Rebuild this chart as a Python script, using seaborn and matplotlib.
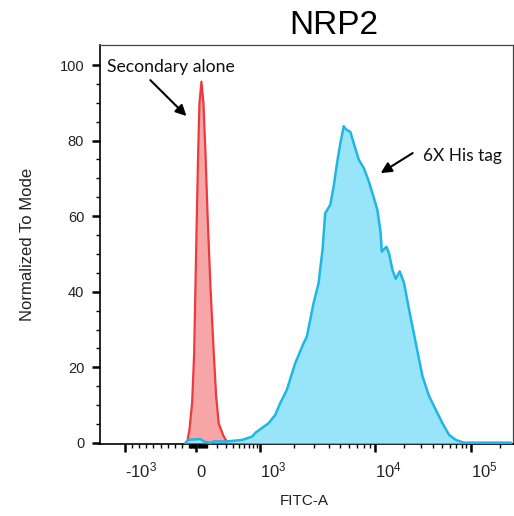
import numpy as np
import pandas as pd
import matplotlib
matplotlib.use("Agg")
import matplotlib.pyplot as plt
import seaborn as sns
from matplotlib.ticker import FixedLocator, NullFormatter

# ---------------- data (FITC-A intensity vs. % of mode) ----------------
red_fitc = [-130, -98, -60, -32, -14, 2.7, 15.5, 27.3, 45.7, 64.1, 82.9, 104.8,
            131.3, 164.9, 190.3, 218.5, 276.7, 318, 1000, 10000, 100000, 262144]
red_mode = [0, 3.4, 10.6, 23.6, 41.2, 58.9, 76.7, 89.9, 95.6, 89.9, 76.7, 58.9,
            41.2, 23.6, 12.1, 5.1, 1.7, 0.3, 0, 0, 0, 0]

blue_fitc = [-153, -112, 36, 73, 131, 171, 299, 562, 784, 872,
             1197, 1370, 1515, 1731, 2044, 2415, 2583, 2950, 3260, 3530, 3725,
             4120, 4400, 4710, 5030, 5375, 5670, 6140, 6560, 7260, 8020, 8870, 9800,
             10590, 11470, 11750, 13150, 14000, 15200, 16450, 18100, 20100, 22650,
             26600, 31250, 36600, 43000, 50550, 59300, 69650, 84950, 262144]
blue_mode = [0, 0.8, 1.0, 0.3, 0, 0.4, 0.34, 0.79, 1.67, 2.7,
             5.2, 7.4, 10.5, 14.0, 21.0, 26.3, 28.1, 36.9, 42.2, 51.1, 60.8,
             63.0, 67.8, 74.0, 79.3, 83.8, 82.9, 82.3, 79.3, 74.9, 72.7, 69.1, 64.7,
             61.6, 55.5, 50.6, 51.9, 50.2, 45.8, 43.4, 45.4, 42.3, 35.3,
             26.5, 17.7, 12.4, 8.8, 5.2, 2.1, 0.8, 0, 0]

x_major = [-1000, 0, 1000, 10000, 100000]
x_major_labels = ["-$10^{3}$", "0", "$10^{3}$", "$10^{4}$", "$10^{5}$"]
y_major = [0, 20, 40, 60, 80, 100]

title = "NRP2"
xlabel = "FITC-A"
ylabel = "Normalized To Mode"
label_red = "Secondary alone"
label_blue = "6X His tag"

RED_LINE = "#EE3A3F"
RED_FILL = "#F7A6A8"
BLUE_LINE = "#1FB6E4"
BLUE_FILL = "#98E5F9"

# ---------------- biexponential-like display scale ----------------
U_A = np.array([-3 * 1.9189, -1.9189, 0.0, 1.9189, 4.1999, 6.5025, 12.0])
D_A = np.array([-215.1, -71.7, 0.0, 63.3, 178.3, 274.0, 502.5])


def fwd(x):
    x = np.asarray(x, dtype=float)
    u = np.where(x >= 0, np.arcsinh(np.abs(x) / 300.0), x / 1000.0 * 1.9189)
    return np.interp(u, U_A, D_A)


def inv(d):
    d = np.asarray(d, dtype=float)
    u = np.interp(d, D_A, U_A)
    return np.where(u >= 0, 300.0 * np.sinh(np.clip(u, 0, None)), u / 1.9189 * 1000.0)


# ---------------- style ----------------
sns.set_style("ticks")
plt.rcParams["font.family"] = ["Liberation Sans", "DejaVu Sans"]
plt.rcParams["mathtext.fontset"] = "custom"
plt.rcParams["mathtext.rm"] = "Liberation Sans"
plt.rcParams["mathtext.it"] = "Liberation Sans:italic"
plt.rcParams["mathtext.bf"] = "Liberation Sans:bold"

fig = plt.figure(figsize=(5.14, 5.16), dpi=100)
ax = fig.add_axes([99.5 / 514, 1 - 444.0 / 516, 413.0 / 514, 399.0 / 516])

ax.set_xscale("function", functions=(fwd, inv))

df_red = pd.DataFrame({"FITC-A": red_fitc, "mode": red_mode})
df_blue = pd.DataFrame({"FITC-A": blue_fitc, "mode": blue_mode})

ax.fill_between(df_red["FITC-A"], df_red["mode"], 0, color=RED_FILL, lw=0, zorder=2)
sns.lineplot(data=df_red, x="FITC-A", y="mode", color=RED_LINE, lw=1.6,
             sort=False, estimator=None, ax=ax, zorder=3)
ax.fill_between(df_blue["FITC-A"], df_blue["mode"], 0, color=BLUE_FILL, lw=0, zorder=4)
sns.lineplot(data=df_blue, x="FITC-A", y="mode", color=BLUE_LINE, lw=1.8,
             sort=False, estimator=None, ax=ax, zorder=5)

ax.set_xlim(-1350, 272000)
ax.set_ylim(-0.3, 105.3)

# ticks
x_minor = ([-100 * k for k in range(2, 10)] + [-10 * k for k in range(1, 11)]
           + [10 * k for k in range(1, 10)] + [100 * k for k in range(1, 10)]
           + [1000 * k for k in range(2, 10)] + [10000 * k for k in range(2, 10)]
           + [200000])
ax.xaxis.set_major_locator(FixedLocator(x_major))
ax.xaxis.set_minor_locator(FixedLocator(x_minor))
ax.xaxis.set_minor_formatter(NullFormatter())
ax.set_xticklabels(x_major_labels)
ax.yaxis.set_major_locator(FixedLocator(y_major))
ax.yaxis.set_minor_locator(FixedLocator(list(range(5, 105, 5))))
ax.yaxis.set_minor_formatter(NullFormatter())

ax.tick_params(axis="both", which="major", direction="out", length=6, width=1.8,
               color="black")
ax.tick_params(axis="both", which="minor", direction="out", length=3.2, width=1.0,
               color="black")
ax.tick_params(axis="y", which="major", labelsize=10.5, labelcolor="#222222", pad=5)
ax.tick_params(axis="x", which="major", labelsize=12, labelcolor="#222222", pad=18)

for lbl in ax.get_xticklabels():
    lbl.set_ha("left")
    lbl.set_va("baseline")

for side in ["left", "bottom"]:
    ax.spines[side].set_color("black")
    ax.spines[side].set_linewidth(1.2)
for side in ["top", "right"]:
    ax.spines[side].set_color("#444444")
    ax.spines[side].set_linewidth(0.9)

ax.set_xlabel(xlabel, fontsize=11, color="#222222")
ax.set_ylabel(ylabel, fontsize=12, color="#222222")
ax.xaxis.set_label_coords(0.495, -0.125)
ax.yaxis.set_label_coords(-0.155, 0.5)

fig.text(334 / 514, 1 - 25 / 516, title, ha="center", va="center", fontsize=24,
         color="black")

# annotations
ann_font = ["Lato", "DejaVu Sans"]
ax.text(-1240, 99.4, label_red, fontsize=12.7, family=ann_font, ha="left",
        va="center", color="#111111", zorder=6)
ax.annotate("", xy=(-139, 86.5), xytext=(-642, 96.0),
            arrowprops=dict(arrowstyle="-|>", color="black", lw=1.5,
                            mutation_scale=16, shrinkA=0, shrinkB=0), zorder=6)
ax.text(31500, 75.8, label_blue, fontsize=12.5, family=ann_font, ha="left",
        va="center", color="#111111", zorder=6)
ax.annotate("", xy=(11470, 71.4), xytext=(24700, 76.7),
            arrowprops=dict(arrowstyle="-|>", color="black", lw=1.5,
                            mutation_scale=16, shrinkA=0, shrinkB=0), zorder=6)

fig.savefig("out.png", dpi=100)
